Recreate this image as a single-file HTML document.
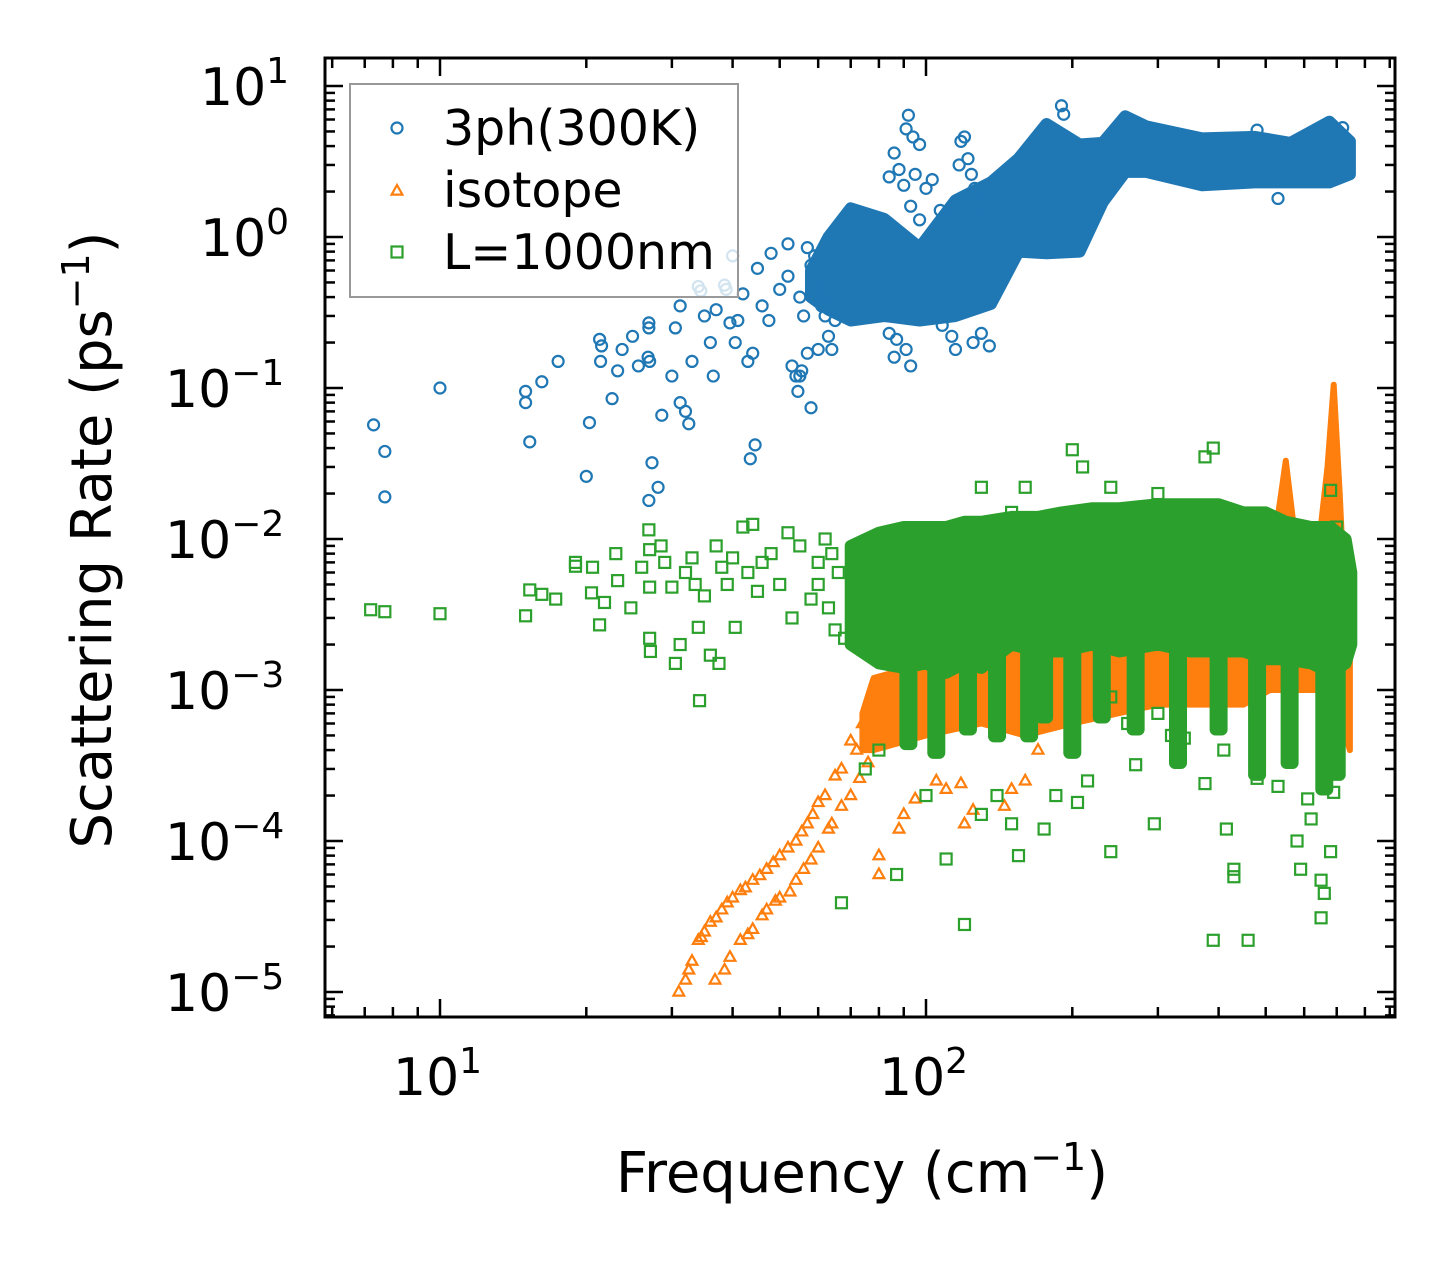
<!DOCTYPE html>
<html><head><meta charset="utf-8"><style>
html,body{margin:0;padding:0;background:#fff}
svg{display:block;font-family:"DejaVu Sans","Liberation Sans",sans-serif}
</style></head><body>
<svg id="chart" width="1455" height="1265" viewBox="0 0 1455 1265" xmlns="http://www.w3.org/2000/svg">
<rect width="1455" height="1265" fill="#fff"/>
<g id="bands"></g>
<g id="marks"></g>
<g id="axes"></g>
<g id="legend"></g>
</svg>
<script>
// ---- data ----
const blueFreq=[7.3,7.7,7.7,10,15,15,15.3,16.2,17.5,20,20.3,21.3,21.5,21.4,22.6,23.2,23.7,24.9,25.6,26.9,26.9,26.8,27,27.3,26.9,28.1,28.6,30,30.5,31.2,31.2,32,32.5,33,34,34.4,35,36,36.5,37,38.5,38.8,39.5,40,40.5,41,42,43,43.5,44,44.5,45,46,47.5,48,50,52,53,54,55,54.5,55.5,57,57,58,59,60,61,62,63,64,66,70,92,91,94,97,86,88,84,90,95,100,103,93,97,120,118,122,117,124,126,107,113,130,134,131,84,87,86,91,93,108,113,115,125,135,130,65,62,190,192,480,720,530,52,55,58,60,56,59,61];
const blueVal=[0.057,0.038,0.019,0.1,0.095,0.08,0.044,0.11,0.15,0.026,0.059,0.21,0.19,0.15,0.085,0.13,0.18,0.22,0.14,0.27,0.25,0.16,0.15,0.032,0.018,0.022,0.066,0.12,0.25,0.35,0.08,0.07,0.058,0.15,0.47,0.44,0.3,0.2,0.12,0.33,0.48,0.45,0.27,0.75,0.2,0.28,0.42,0.15,0.034,0.17,0.042,0.62,0.35,0.28,0.78,0.45,0.9,0.14,0.12,0.12,0.095,0.13,0.17,0.85,0.074,0.5,0.18,0.6,0.38,0.22,0.18,0.95,0.3,6.4,5.2,4.6,4.1,3.6,2.8,2.5,2.2,2.6,2.1,2.4,1.6,1.3,4.6,4.3,3.3,3.0,2.6,2.1,1.5,1.4,1.6,1.9,1.3,0.23,0.21,0.16,0.18,0.14,0.26,0.22,0.18,0.2,0.19,0.23,0.28,0.3,7.4,6.5,5.1,5.3,1.8,0.55,0.4,0.65,0.45,0.3,0.75,0.35];
const blueBandFreq=[58,63,70,82,97,115,136,155,177,207,231,257,284,370,475,562,676,745];
const blueBandHi=[0.6,1.0,1.55,1.32,0.85,1.75,2.3,3.3,5.6,4.1,4.2,6.3,5.4,4.5,4.6,4.2,5.8,4.3];
const blueBandLo=[0.4,0.33,0.28,0.3,0.28,0.3,0.36,0.8,0.78,0.8,1.7,2.7,2.7,2.2,2.3,2.3,2.3,2.6];

const orangeFreq=[31,32,33,34,35,36,38,40,41.5,44,47,50,54,57,60,65,70,74,77,36.8,38.5,41.5,44,47,50,52.5,56,60,63,67,73,80,80,88,90,95,105,110,120,145,150,160,125,170,118,32.5,34.5,37,39,42.5,45.5,48.5,52,55.5,58.5,62,67,72,39.5,43,46,49,54,58,64,70,76];
const orangeVal=[1.0e-5,1.2e-5,1.6e-5,2.2e-5,2.5e-5,2.9e-5,3.5e-5,4.2e-5,4.7e-5,5.5e-5,6.5e-5,8e-5,1e-4,1.3e-4,1.8e-4,2.7e-4,4.6e-4,6e-4,8.5e-4,1.2e-5,1.4e-5,2.2e-5,2.6e-5,3.5e-5,4.2e-5,4.6e-5,6.5e-5,9e-5,1.2e-4,1.7e-4,2.6e-4,6e-5,8e-5,1.2e-4,1.5e-4,1.9e-4,2.5e-4,2.2e-4,1.3e-4,1.7e-4,2.2e-4,2.5e-4,1.6e-4,4e-4,2.4e-4,1.4e-5,2.3e-5,3.1e-5,3.9e-5,4.9e-5,5.9e-5,7.2e-5,9e-5,1.15e-4,1.5e-4,2e-4,3e-4,4e-4,1.7e-5,2.4e-5,3.2e-5,4e-5,5.5e-5,7.5e-5,1.3e-4,2e-4,3.3e-4];
const orangeBandFreq=[74,78,100,130,160,200,300,450,510,550,580,640,670,690,710,730,745];
const orangeBandHi=[7e-4,1.2e-3,1.5e-3,2e-3,2e-3,2e-3,2.5e-3,3e-3,6e-3,0.033,8e-3,8e-3,0.03,0.105,0.02,3e-3,2e-3];
const orangeBandLo=[4e-4,4e-4,5e-4,6e-4,5e-4,6e-4,8e-4,8e-4,1e-3,1e-3,1e-3,1e-3,1e-3,1e-3,1e-3,5e-4,4e-4];

const greenFreq=[7.2,7.7,10,15,15.3,16.2,17.3,19,19,20.6,20.5,21.3,21.8,23,23.2,24.7,26,26.9,27,27,27,27.1,28.5,29,30,30.5,31.2,32,33,33.5,34,34.2,35,36,37,37.5,38,39,40,40.5,42,43,44,45,46,48,50,52,53,55,58,60,62,65,67,120,87,110,150,155,175,185,205,240,215,270,295,320,340,375,390,415,410,430,430,460,480,530,580,590,620,650,660,680,650,690,610,160,200,210,150,240,300,390,375,350,130,180,80,75,100,130,140,260,240,300,680,700,60,63,66,68,64];
const greenVal=[3.4e-3,3.3e-3,3.2e-3,3.1e-3,4.6e-3,4.3e-3,4e-3,7e-3,6.6e-3,6.5e-3,4.4e-3,2.7e-3,3.8e-3,8e-3,5.3e-3,3.5e-3,6.5e-3,0.0115,8.5e-3,4.8e-3,2.2e-3,1.8e-3,9e-3,7e-3,4.8e-3,1.5e-3,2e-3,6e-3,7.5e-3,5e-3,2.6e-3,8.5e-4,4.2e-3,1.7e-3,9e-3,1.5e-3,6.5e-3,5e-3,7.5e-3,2.6e-3,0.012,6e-3,0.0125,4.5e-3,7e-3,8e-3,5e-3,0.011,3e-3,9e-3,4e-3,7e-3,1e-2,2.5e-3,3.9e-5,2.8e-5,6e-5,7.6e-5,1.3e-4,8e-5,1.2e-4,2e-4,1.8e-4,8.5e-5,2.5e-4,3.2e-4,1.3e-4,5e-4,4.8e-4,2.4e-4,2.2e-5,1.2e-4,4e-4,6.5e-5,5.8e-5,2.2e-5,2.6e-4,2.3e-4,1e-4,6.5e-5,1.4e-4,5.5e-5,4.5e-5,8.5e-5,3.1e-5,2.1e-4,1.9e-4,0.022,0.039,0.03,0.015,0.022,0.02,0.04,0.035,0.015,0.022,0.01,4e-4,3e-4,2e-4,1.5e-4,2e-4,6e-4,9e-4,7e-4,0.021,0.012,5e-3,3.5e-3,6e-3,2.2e-3,8e-3];
const greenBandFreq=[70,80,90,100,110,120,130,150,170,190,220,250,300,350,400,450,500,550,620,680,730,750];
const greenBandHi=[0.009,0.011,0.012,0.012,0.012,0.013,0.013,0.014,0.014,0.015,0.016,0.016,0.017,0.017,0.017,0.015,0.015,0.013,0.012,0.012,0.010,0.006];
const greenBandLo=[2e-3,1.5e-3,1.4e-3,1.5e-3,1.3e-3,1.5e-3,1.4e-3,2e-3,1.8e-3,1.8e-3,2e-3,1.8e-3,2e-3,1.8e-3,1.8e-3,1.8e-3,1.6e-3,1.6e-3,1.5e-3,1.3e-3,1.5e-3,2e-3];
const greenFingerFreq=[92,105,122,140,163,175,200,230,270,330,400,480,560,660,700];
const greenFingerMin=[4e-4,3.5e-4,5e-4,4.5e-4,4.5e-4,6e-4,3.5e-4,6e-4,5e-4,3e-4,5e-4,2.5e-4,3e-4,2e-4,2.5e-4];

const xTickLabels=["1","2"];
const yTickExps=[1,0,-1,-2,-3,-4,-5];

// ---- axes ----
const L=325,R=1395,T=58,B=1017;
const X=f=>440+486*(Math.log10(f)-1);
const Y=v=>237-151*Math.log10(v);
const NS="http://www.w3.org/2000/svg";
function mk(tag,attrs,parent){const e=document.createElementNS(NS,tag);for(const k in attrs)e.setAttribute(k,attrs[k]);parent.appendChild(e);return e;}
const bands=document.getElementById('bands'),marks=document.getElementById('marks'),axes=document.getElementById('axes'),legend=document.getElementById('legend');

function bandPath(fr,hi,lo){let p='';for(let i=0;i<fr.length;i++)p+=(i?'L':'M')+X(fr[i]).toFixed(1)+' '+Y(hi[i]).toFixed(1);for(let i=fr.length-1;i>=0;i--)p+='L'+X(fr[i]).toFixed(1)+' '+Y(lo[i]).toFixed(1);return p+'Z';}

const ob=mk('path',{d:bandPath(orangeBandFreq,orangeBandHi,orangeBandLo),fill:'#ff7f0e',stroke:'#ff7f0e','stroke-width':6,'stroke-linejoin':'round'},bands);


const bb=mk('path',{d:bandPath(blueBandFreq,blueBandHi,blueBandLo),fill:'#1f77b4',stroke:'#1f77b4','stroke-width':12,'stroke-linejoin':'round'},bands);



function tri(x,y,s){return `M${x} ${y-s}L${x+s*0.9} ${y+s*0.6}L${x-s*0.9} ${y+s*0.6}Z`;}
for(let i=0;i<orangeFreq.length;i++){
  const t=mk('path',{d:tri(X(orangeFreq[i]),Y(orangeVal[i]),6),fill:'none',stroke:'#ff7f0e','stroke-width':2.2},marks);
  
  
}
const gb=mk('path',{d:bandPath(greenBandFreq,greenBandHi,greenBandLo),fill:'#2ca02c',stroke:'#2ca02c','stroke-width':12,'stroke-linejoin':'round'},bands);


for(let i=0;i<greenFingerFreq.length;i++){
  const x=X(greenFingerFreq[i]);
  const r=mk('rect',{x:x-9,y:Y(2e-3),width:18,height:Y(greenFingerMin[i])-Y(2e-3),fill:'#2ca02c',rx:6},bands);
  
  
}
for(let i=0;i<greenFreq.length;i++){
  const s=mk('rect',{x:X(greenFreq[i])-5.5,y:Y(greenVal[i])-5.5,width:11,height:11,fill:'none',stroke:'#2ca02c','stroke-width':2.2},marks);
  
  
}
for(let i=0;i<blueFreq.length;i++){
  const c=mk('circle',{cx:X(blueFreq[i]),cy:Y(blueVal[i]),r:5.5,fill:'none',stroke:'#1f77b4','stroke-width':2.2},marks);
  
  
}

const fr=mk('rect',{x:L,y:T,width:R-L,height:B-T,fill:'none',stroke:'#000','stroke-width':3},axes);


function line(x1,y1,x2,y2,name){const l=mk('line',{x1,y1,x2,y2,stroke:'#000','stroke-width':2.5},axes);}
for(let d=0;d<=2;d++)for(let m=1;m<=9;m++){
  const f=m*Math.pow(10,d);const x=X(f);if(x<L+1||x>R-1)continue;
  const len=m===1?18:10;
  line(x,B,x,B-len,'x-tick');line(x,T,x,T+len,'x-tick-top');
}
for(let d=-6;d<=1;d++)for(let m=1;m<=9;m++){
  const v=m*Math.pow(10,d);const y=Y(v);if(y<T+1||y>B-1)continue;
  const len=m===1?18:10;
  line(L,y,L+len,y,'y-tick');line(R,y,R-len,y,'y-tick-right');
}
xTickLabels.forEach((e,i)=>{
  const x=X(Math.pow(10,i+1));
  const t=mk('text',{x:x-47,y:1095,'font-size':52,fill:'#000'},axes);
  
  
  t.textContent='10';
  const s=mk('tspan',{dy:-22,'font-size':36},t);s.textContent=e;
});
yTickExps.forEach(e=>{
  const y=Y(Math.pow(10,e));
  const t=mk('text',{x:e<0?165:200,y:y+19,'font-size':52,fill:'#000'},axes);
  
  
  t.textContent='10';
  const s=mk('tspan',{dy:-22,'font-size':36},t);s.textContent=e<0?'\u2212'+(-e):String(e);
});
const xt=mk('text',{x:862,y:1192,'font-size':56,'text-anchor':'middle',fill:'#000'},axes);


xt.innerHTML='Frequency (cm<tspan dy="-22" font-size="38">\u22121</tspan><tspan dy="22">)</tspan>';
const yt=mk('text',{x:0,y:0,'font-size':56,'text-anchor':'middle',fill:'#000',transform:'translate(111,540) rotate(-90)'},axes);


yt.innerHTML='Scattering Rate (ps<tspan dy="-22" font-size="38">\u22121</tspan><tspan dy="22">)</tspan>';

const lb=mk('rect',{x:350,y:84,width:388,height:213,fill:'#fff','fill-opacity':0.8,stroke:'#999','stroke-width':2},legend);


const entries=[['3ph(300K)','circle'],['isotope','tri'],['L=1000nm','sq']];
entries.forEach((en,i)=>{
  const y=128+i*62;
  let m;
  if(en[1]==='circle')m=mk('circle',{cx:397,cy:y,r:5.5,fill:'none',stroke:'#1f77b4','stroke-width':2.2},legend);
  else if(en[1]==='tri')m=mk('path',{d:tri(397,y+1,6),fill:'none',stroke:'#ff7f0e','stroke-width':2.2},legend);
  else m=mk('rect',{x:391.5,y:y-5.5,width:11,height:11,fill:'none',stroke:'#2ca02c','stroke-width':2.2},legend);
  
  
  const t=mk('text',{x:443,y:y+17,'font-size':49,fill:'#000'},legend);
  
  
  t.textContent=en[0];
});
</script>
</body></html>
